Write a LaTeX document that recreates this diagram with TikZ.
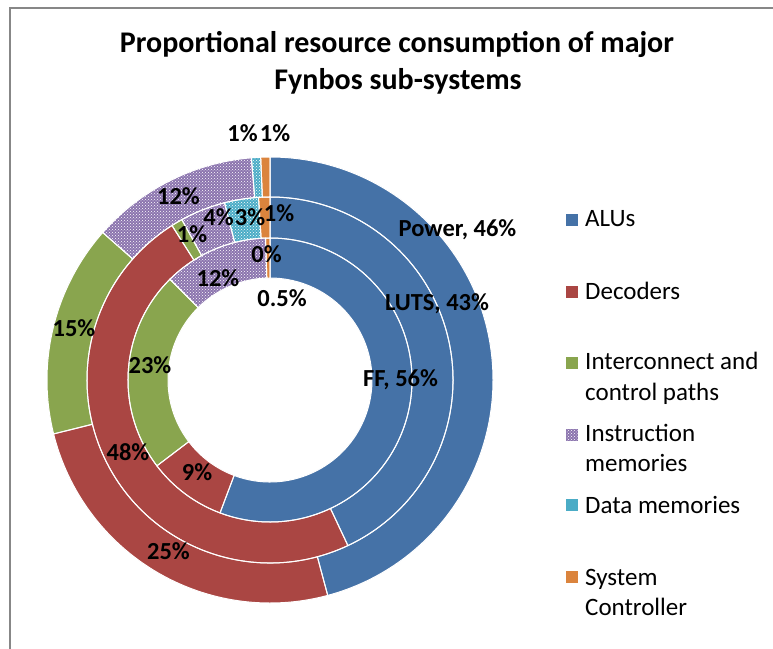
\documentclass[tikz,border=0pt]{standalone}
\usepackage{fontspec}
\setmainfont{Carlito}
\usetikzlibrary{patterns}
\definecolor{cALU}{HTML}{4572A7}
\definecolor{cDEC}{HTML}{AA4643}
\definecolor{cINT}{HTML}{89A54E}
\definecolor{cINS}{HTML}{8B74AE}
\definecolor{cDAT}{HTML}{4BACC6}
\definecolor{cSYS}{HTML}{DB843D}
\definecolor{cFrame}{HTML}{878787}
\newcommand{\ringseg}[5]{%
  \fill[#5] (#3:#2pt) arc[start angle=#3, end angle=#4, radius=#2pt] -- (#4:#1pt) arc[start angle=#4, end angle=#3, radius=#1pt] -- cycle;}
\newcommand{\ringpat}[4]{%
  \fill[pattern=crosshatch dots, pattern color=white] (#3:#2pt) arc[start angle=#3, end angle=#4, radius=#2pt] -- (#4:#1pt) arc[start angle=#4, end angle=#3, radius=#1pt] -- cycle;}
\newcommand{\ringline}[4]{%
  \draw[white, line width=1pt] (#3:#2pt) arc[start angle=#3, end angle=#4, radius=#2pt] -- (#4:#1pt) arc[start angle=#4, end angle=#3, radius=#1pt] -- cycle;}
\tikzset{
  lbl/.style={font=\fontsize{24.5}{28}\selectfont\bfseries, inner sep=0pt, text height=0.644em, text depth=0pt, anchor=center},
  leg/.style={font=\fontsize{25}{30}\selectfont, inner sep=0pt, anchor=base west},
  legsq/.style={minimum size=12pt, inner sep=0pt, draw=none},
  ttl/.style={font=\fontsize{30}{38}\selectfont\bfseries, inner sep=0pt, anchor=base}
}
\begin{document}
\begin{tikzpicture}[x=1pt,y=1pt]
\useasboundingbox (0,0) rectangle (773,648);
\fill[white] (0,0) rectangle (773,648);
\begin{scope}
\clip (0,0) rectangle (773,648);
\draw[cFrame, line width=1.6pt] (10,-10) -- (10,640) -- (790,640);
\end{scope}
% title
\node[ttl] (title1) at (397,595) {Proportional resource consumption of major};
\node[ttl] (title2) at (398,558) {Fynbos sub-systems};
\begin{scope}[shift={(270,268)}]
% outer ring: Power
\ringseg{183}{223}{90}{-75}{cALU}
\ringseg{183}{223}{-75}{-166}{cDEC}
\ringseg{183}{223}{194}{138.6}{cINT}
\ringseg{183}{223}{138.6}{94.8}{cINS}
\ringpat{183}{223}{138.6}{94.8}
\ringseg{183}{223}{94.8}{92.4}{cDAT}
\ringpat{183}{223}{94.8}{92.4}
\ringseg{183}{223}{92.4}{90}{cSYS}
% middle ring: LUTS
\ringseg{142}{183}{90}{-64.8}{cALU}
\ringseg{142}{183}{-64.8}{-237.6}{cDEC}
\ringseg{142}{183}{122.4}{118.8}{cINT}
\ringseg{142}{183}{118.8}{104.4}{cINS}
\ringpat{142}{183}{118.8}{104.4}
\ringseg{142}{183}{104.4}{93.6}{cDAT}
\ringpat{142}{183}{104.4}{93.6}
\ringseg{142}{183}{93.6}{90}{cSYS}
% inner ring: FF
\ringseg{102}{142}{90}{-110.6}{cALU}
\ringseg{102}{142}{-110.6}{-142.8}{cDEC}
\ringseg{102}{142}{217.2}{134.8}{cINT}
\ringseg{102}{142}{134.8}{91.8}{cINS}
\ringpat{102}{142}{134.8}{91.8}
\ringseg{102}{142}{91.8}{90}{cSYS}
% separators
\foreach \a/\b in {90/-75,-75/-166,194/138.6,138.6/94.8,94.8/92.4,92.4/90}{\ringline{183}{223}{\a}{\b}}
\foreach \a/\b in {90/-64.8,-64.8/-237.6,122.4/118.8,118.8/104.4,104.4/93.6,93.6/90}{\ringline{142}{183}{\a}{\b}}
\foreach \a/\b in {90/-110.6,-110.6/-142.8,217.2/134.8,134.8/91.8,91.8/90}{\ringline{102}{142}{\a}{\b}}
\end{scope}
% data labels
\node[lbl] (power) at (457.5,415) {Power, 46\%};
\node[lbl] (luts) at (437,341) {LUTS, 43\%};
\node[lbl] (ff) at (400.5,265) {FF, 56\%};
\node[lbl] (p25) at (168.5,92) {25\%};
\node[lbl] (l48) at (128,191) {48\%};
\node[lbl] (f9) at (197,171) {9\%};
\node[lbl] (p15) at (74,315) {15\%};
\node[lbl] (f23) at (150,278) {23\%};
\node[lbl] (p12) at (178.5,447) {12\%};
\node[lbl] (l1a) at (192,409) {1\%};
\node[lbl] (l1b) at (279,430) {1\%};
\node[lbl] (l4) at (218.5,426) {4\%};
\node[lbl] (l3) at (250,426) {3\%};
\node[lbl] (f0) at (266.5,389) {0\%};
\node[lbl] (f12) at (218,365) {12\%};
\node[lbl] (f05) at (282,345) {0.5\%};
\node[lbl] (pd1) at (242.5,510) {1\%};
\node[lbl] (ps1) at (275,510) {1\%};
% legend
\node[legsq, fill=cALU] (sq1) at (571.5,428) {};
\node[leg] (t1) at (585,421) {ALUs};
\node[legsq, fill=cDEC] (sq2) at (571.5,356) {};
\node[leg] (t2) at (585,348) {Decoders};
\node[legsq, fill=cINT] (sq3) at (571.5,285) {};
\node[leg] (t3a) at (585,278) {Interconnect and};
\node[leg] (t3b) at (585,247.5) {control paths};
\node[legsq, fill=cINS] (sq4) at (571.5,213) {};
\fill[pattern=crosshatch dots, pattern color=white] (sq4.south west) rectangle (sq4.north east);
\node[leg] (t4a) at (585,206) {Instruction};
\node[leg] (t4b) at (585,176) {memories};
\node[legsq, fill=cDAT] (sq5) at (571.5,143) {};
\node[leg] (t5) at (585,135) {Data memories};
\node[legsq, fill=cSYS] (sq6) at (571.5,71) {};
\node[leg] (t6a) at (585,63) {System};
\node[leg] (t6b) at (585,33) {Controller};
\end{tikzpicture}
\end{document}
